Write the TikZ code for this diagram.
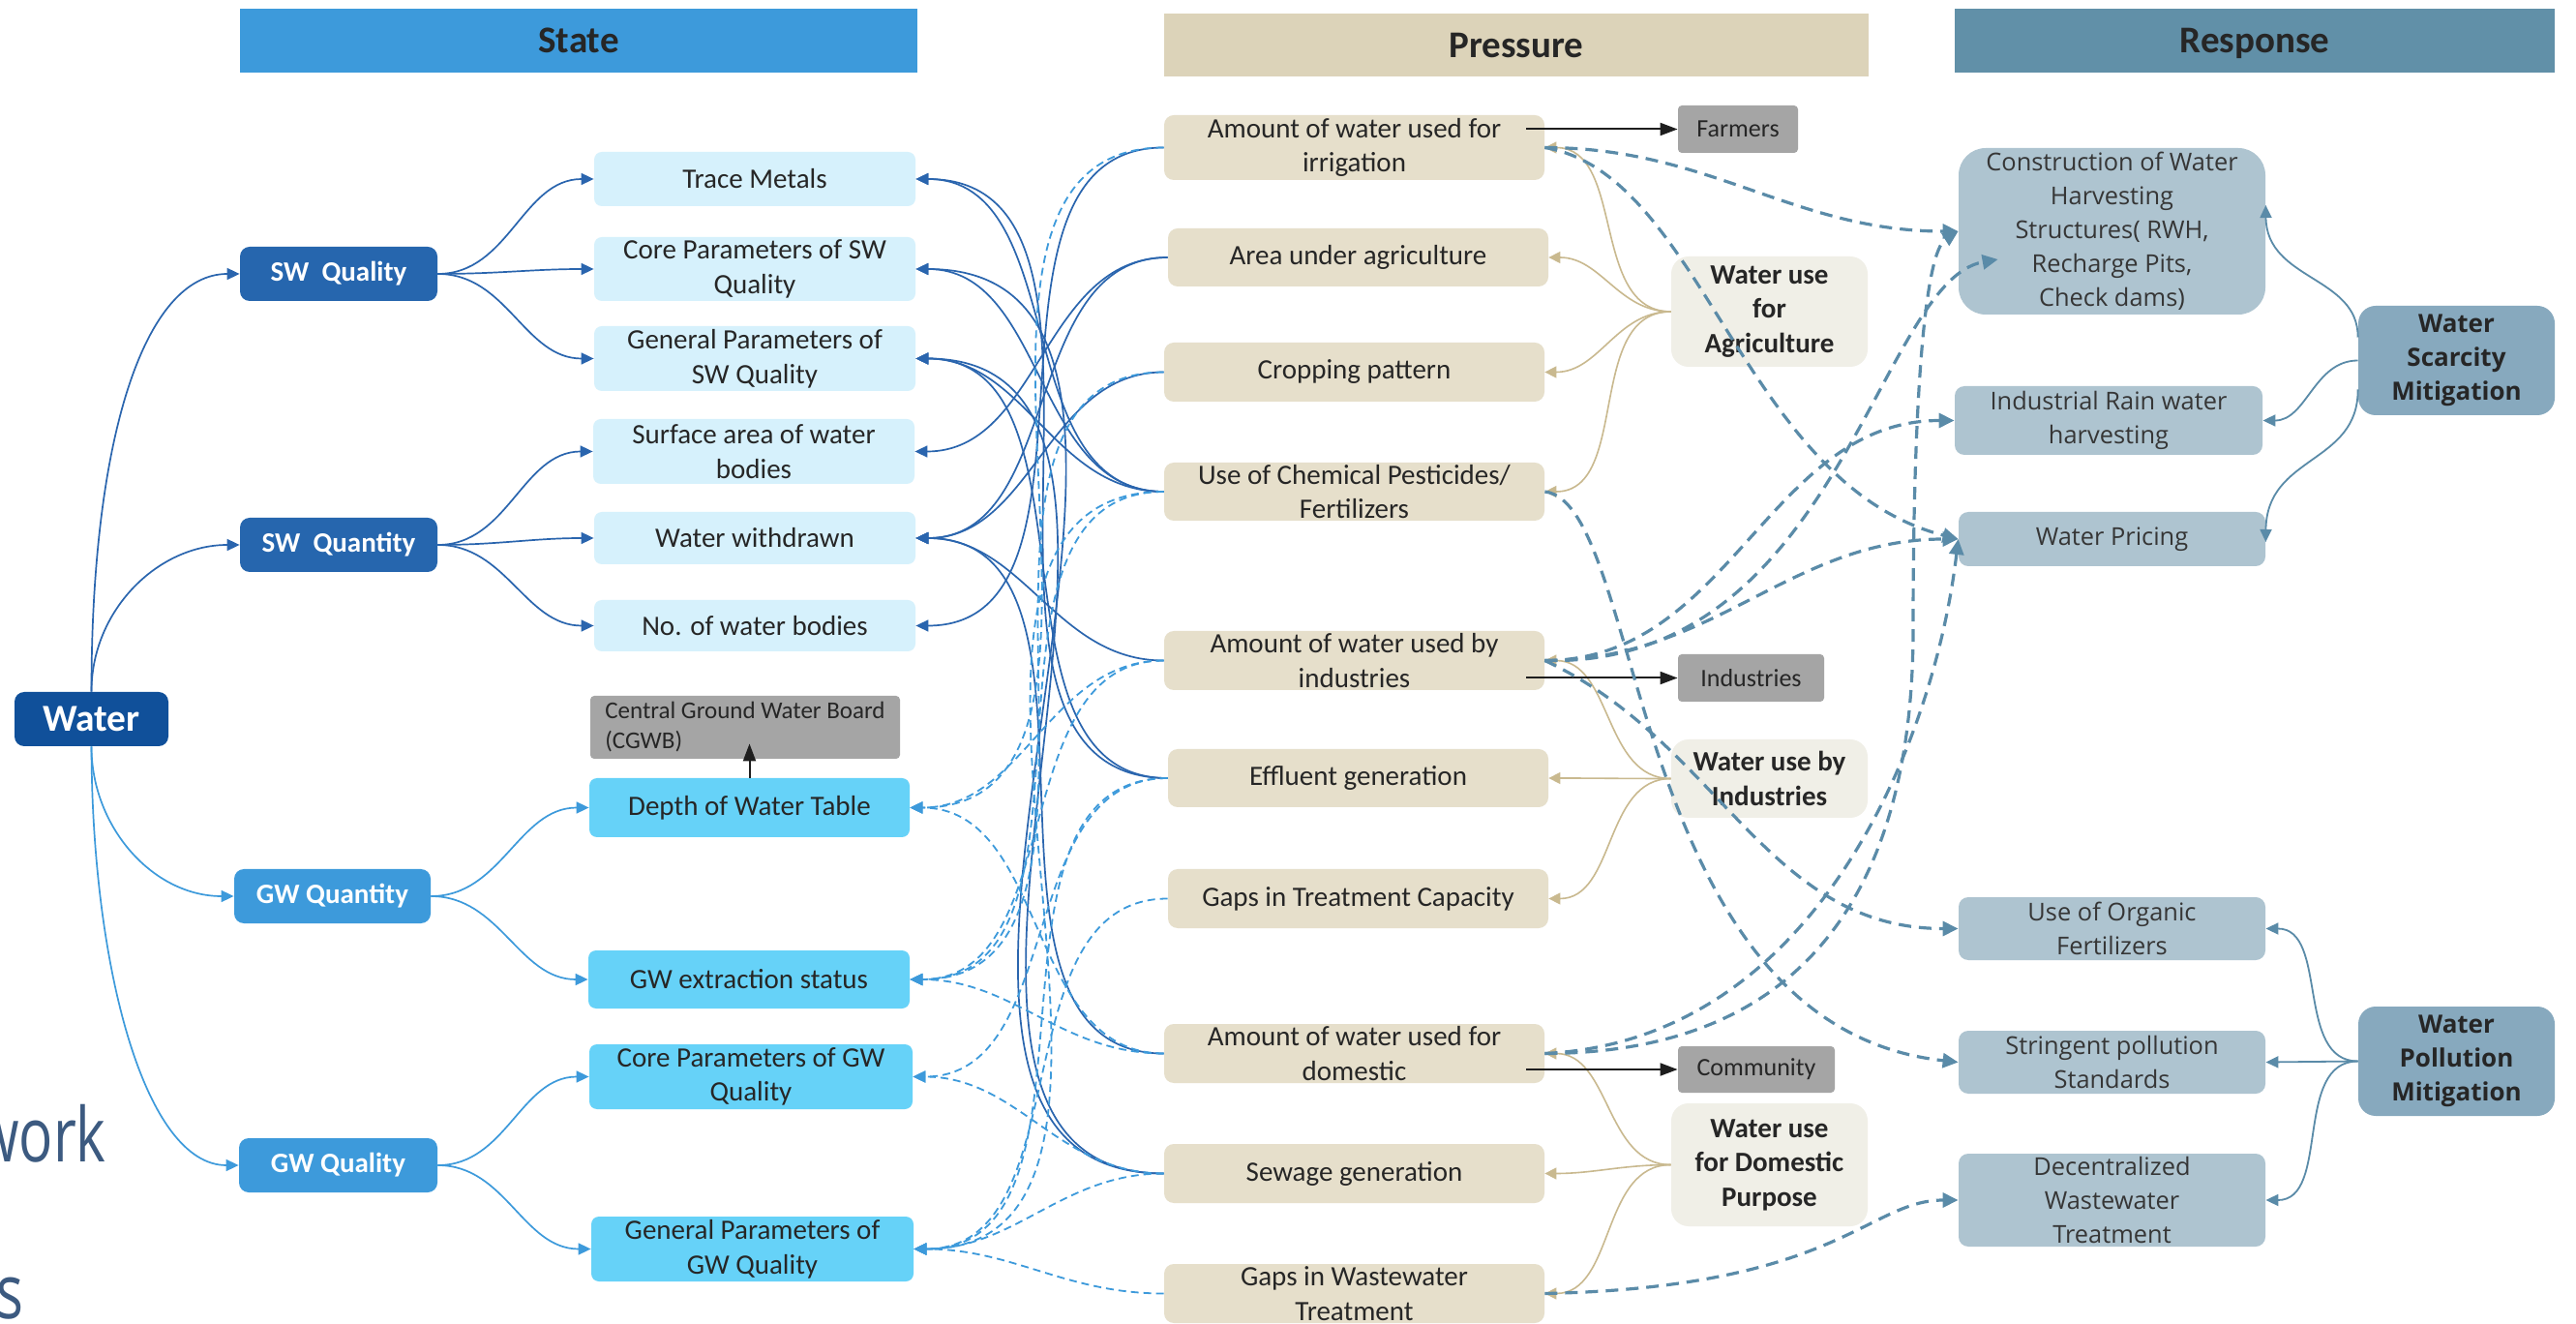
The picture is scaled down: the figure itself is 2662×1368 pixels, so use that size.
\documentclass[tikz,border=0pt]{standalone}
\usepackage{fontspec}
\setmainfont{Carlito}
\newfontfamily\osans{Open Sans}
\newfontfamily\slidefont[FakeStretch=0.75]{Open Sans}
\usetikzlibrary{arrows.meta}
\definecolor{hdrState}{HTML}{3D9ADB}
\definecolor{hdrPress}{HTML}{DCD3B9}
\definecolor{hdrResp}{HTML}{6190A8}
\definecolor{waterC}{HTML}{10509A}
\definecolor{swC}{HTML}{2666AE}
\definecolor{gwC}{HTML}{3D9ADB}
\definecolor{swSub}{HTML}{D6F1FC}
\definecolor{gwSub}{HTML}{66D2F8}
\definecolor{greyC}{HTML}{A5A5A5}
\definecolor{pressC}{HTML}{E6DFCB}
\definecolor{wuseC}{HTML}{F0EFE7}
\definecolor{respC}{HTML}{AEC4D0}
\definecolor{mitC}{HTML}{87A9BE}
\definecolor{txtC}{HTML}{262626}
\definecolor{rtxtC}{HTML}{363636}
\definecolor{swLine}{HTML}{2A65AE}
\definecolor{gwLine}{HTML}{3D9ADB}
\definecolor{rLine}{HTML}{5A8BA8}
\definecolor{tanLine}{HTML}{C9B98F}
\definecolor{blkLine}{HTML}{1E1E1E}
\definecolor{slateC}{HTML}{3C5A80}
\tikzset{
  base/.style={rectangle, inner sep=0pt, align=center, text=txtC},
  hdr/.style={base, text depth=0pt, font=\bfseries\fontsize{19.5}{22}\selectfont},
  dbox/.style={base, rounded corners=5pt, text=white, font=\bfseries\fontsize{14.5}{17}\selectfont},
  sbox/.style={base, fill=swSub, rounded corners=4pt, minimum width=166pt, font=\fontsize{14.5}{17.8}\selectfont},
  gbox/.style={base, fill=gwSub, rounded corners=4pt, font=\fontsize{14.5}{17.8}\selectfont},
  pbox/.style={base, fill=pressC, rounded corners=5pt, minimum width=196.5pt, font=\fontsize{14.5}{17.8}\selectfont},
  greybox/.style={base, fill=greyC, rounded corners=2pt, font=\fontsize{13}{15.5}\selectfont},
  wbox/.style={base, fill=wuseC, rounded corners=9pt, minimum width=101.5pt, font=\bfseries\fontsize{14.5}{17.8}\selectfont},
  rbox/.style={base, fill=respC, rounded corners=5pt, minimum width=158.5pt, text=rtxtC, font=\osans\fontsize{12.7}{17.5}\selectfont},
  mbox/.style={base, fill=mitC, rounded corners=9pt, minimum width=101.5pt, text=txtC, font=\osans\bfseries\fontsize{13}{17.5}\selectfont},
  swl/.style={draw=swLine, line width=0.85pt, -{Triangle[length=6.5pt,width=6pt]}},
  gws/.style={draw=gwLine, line width=0.85pt, -{Triangle[length=6.5pt,width=6pt]}},
  gwl/.style={draw=gwLine, line width=0.9pt, dash pattern=on 4pt off 2.5pt, -{Triangle[length=6.5pt,width=6pt]}},
  rl/.style={draw=rLine, line width=1.6pt, dash pattern=on 6.5pt off 4pt, -{Triangle[length=8pt,width=7.5pt]}},
  rs/.style={draw=rLine, line width=0.9pt, -{Triangle[length=6.5pt,width=6pt]}},
  tl/.style={draw=tanLine, line width=0.8pt, -{Triangle[length=6pt,width=6pt]}},
  bl/.style={draw=blkLine, line width=1pt, -{Triangle[length=9pt,width=6.5pt]}}
}
\begin{document}
\begin{tikzpicture}[x=0.5pt,y=0.5pt]
\useasboundingbox (0,0) rectangle (2662,-1368);
\clip (0,0) rectangle (2662,-1368);
\fill[white] (0,0) rectangle (2662,-1368);

% slide text fragments
\node[anchor=base east, inner sep=0pt, text=slateC, font=\slidefont\fontsize{39}{39}\selectfont] (fw) at (110,-1200) {work};
\node[anchor=base west, inner sep=0pt, text=slateC, font=\slidefont\fontsize{39}{39}\selectfont] (fs) at (-4,-1362) {s};

% headers
\node[hdr, fill=hdrState, minimum width=350pt, minimum height=33pt] (hS) at (598,-42) {State};
\node[hdr, fill=hdrPress, minimum width=364pt, minimum height=32.5pt] (hP) at (1567,-46.5) {Pressure};
\node[hdr, fill=hdrResp, minimum width=310pt, minimum height=33pt] (hR) at (2330,-42) {Response};

% state column
\node[dbox, fill=waterC, minimum width=79.5pt, minimum height=28pt, font=\bfseries\fontsize{19.7}{22}\selectfont] (water) at (94.5,-743) {Water};
\node[dbox, fill=swC, minimum width=102pt, minimum height=28pt] (swql) at (350,-283) {SW\ \ Quality};
\node[dbox, fill=swC, minimum width=102pt, minimum height=28pt] (swqn) at (350,-563) {SW\ \ Quantity};
\node[dbox, fill=gwC, minimum width=101.5pt, minimum height=28pt] (gwqn) at (343.5,-926) {GW Quantity};
\node[dbox, fill=gwC, minimum width=102.5pt, minimum height=28pt] (gwql) at (349.5,-1204) {GW Quality};

\node[sbox, minimum height=28pt] (trace) at (780,-185) {Trace Metals};
\node[sbox, minimum height=33pt] (coresw) at (780,-278) {Core Parameters of SW\\Quality};
\node[sbox, minimum height=33.5pt] (gensw) at (780,-370.5) {General Parameters of\\SW Quality};
\node[sbox, minimum height=33.5pt] (surf) at (779,-466.5) {Surface area of water\\bodies};
\node[sbox, minimum height=27pt] (withdr) at (780,-556) {Water withdrawn};
\node[sbox, minimum height=26.5pt] (nobod) at (780,-646.5) {No. of water bodies};

\node[greybox, align=left, minimum width=160pt, minimum height=32.5pt, font=\fontsize{12.5}{15.5}\selectfont] (cgwb) at (770,-751.5) {Central Ground Water Board\\(CGWB)};
\node[gbox, minimum width=165.5pt, minimum height=30.5pt] (depth) at (774.5,-834.5) {Depth of Water Table};
\node[gbox, minimum width=166pt, minimum height=30pt] (extr) at (774,-1012) {GW extraction status};
\node[gbox, minimum width=167pt, minimum height=33.5pt] (coregw) at (776,-1112.5) {Core Parameters of GW\\Quality};
\node[gbox, minimum width=166.5pt, minimum height=33.5pt] (gengw) at (777.5,-1290.5) {General Parameters of\\GW Quality};

% pressure column
\node[pbox, minimum height=33.5pt] (irr) at (1399.5,-152.5) {Amount of water used for\\irrigation};
\node[pbox, minimum height=30pt] (area) at (1403.5,-266) {Area under agriculture};
\node[pbox, minimum height=30.5pt] (crop) at (1399.5,-384.5) {Cropping pattern};
\node[pbox, minimum height=30pt] (chem) at (1399.5,-508) {Use of Chemical Pesticides/\\Fertilizers};
\node[pbox, minimum height=30.5pt] (ind) at (1399.5,-682.5) {Amount of water used by\\industries};
\node[pbox, minimum height=30pt] (eff) at (1403.5,-804) {Effluent generation};
\node[pbox, minimum height=30.5pt] (gapt) at (1403.5,-928.5) {Gaps in Treatment Capacity};
\node[pbox, minimum height=30.5pt] (dom) at (1399.5,-1088.5) {Amount of water used for\\domestic};
\node[pbox, minimum height=30.5pt] (sew) at (1399.5,-1212.5) {Sewage generation};
\node[pbox, minimum height=30.5pt] (gapw) at (1399.5,-1336.5) {Gaps in Wastewater\\Treatment};

\node[greybox, minimum width=62pt, minimum height=24.5pt] (farmers) at (1796,-133.5) {Farmers};
\node[greybox, minimum width=75.5pt, minimum height=24.5pt] (indus) at (1809.5,-700.5) {Industries};
\node[greybox, minimum width=81pt, minimum height=24pt] (comm) at (1815,-1105) {Community};

\node[wbox, minimum height=57pt] (wagri) at (1828.5,-322) {Water use\\for\\Agriculture};
\node[wbox, minimum height=40.5pt] (wind) at (1828.5,-804.5) {Water use by\\Industries};
\node[wbox, minimum height=63.5pt] (wdom) at (1828.5,-1203.5) {Water use\\for Domestic\\Purpose};

% response column
\node[rbox, rounded corners=14pt, minimum height=86pt] (constr) at (2182.5,-239) {Construction\ of Water\\Harvesting\\Structures( RWH,\\Recharge Pits,\\Check dams)};
\node[rbox, minimum width=159pt, minimum height=35.5pt] (rain) at (2179,-434.5) {Industrial Rain water\\harvesting};
\node[rbox, minimum height=28pt] (price) at (2182.5,-557) {Water Pricing};
\node[rbox, minimum height=32.5pt] (organ) at (2182.5,-959.5) {Use of Organic\\Fertilizers};
\node[rbox, minimum height=32.5pt] (string) at (2182.5,-1097.5) {Stringent pollution\\Standards};
\node[rbox, minimum height=48pt] (decen) at (2182.5,-1240) {Decentralized\\Wastewater\\Treatment};
\node[mbox, minimum height=56.5pt] (scarc) at (2538.5,-372.5) {Water\\Scarcity\\Mitigation};
\node[mbox, minimum height=56.5pt] (pollu) at (2538.5,-1096.5) {Water\\Pollution\\Mitigation};

% water to state groups
\draw[swl] (water.north) .. controls (94.5,-450) and (150,-283) .. (swql.west);
\draw[swl] (water.north) to[out=90,in=180] (swqn.west);
\draw[gws] (water.south) to[out=-90,in=180] (gwqn.west);
\draw[gws] (water.south) .. controls (95,-1000) and (150,-1204) .. (gwql.west);

\foreach \t in {trace,coresw,gensw} \draw[swl] (swql.east) to[out=0,in=180] (\t.west);
\foreach \t in {surf,withdr,nobod} \draw[swl] (swqn.east) to[out=0,in=180] (\t.west);
\foreach \t in {depth,extr} \draw[gws] (gwqn.east) to[out=0,in=180] (\t.west);
\foreach \t in {coregw,gengw} \draw[gws] (gwql.east) to[out=0,in=180] (\t.west);

\draw[bl, shorten >=-8pt] (depth.north) -- (depth.north |- cgwb.south);

% pressure to SW state (solid)
\draw[swl] (irr.west) to[out=180,in=0] (nobod.east);
\draw[swl] (area.west) to[out=180,in=0] (surf.east);
\draw[swl] (area.west) to[out=180,in=0] (withdr.east);
\draw[swl] (crop.west) to[out=180,in=0] (withdr.east);
\foreach \t in {trace,coresw,gensw} \draw[swl] (chem.west) to[out=180,in=0] (\t.east);
\draw[swl] (ind.west) to[out=180,in=0] (withdr.east);
\draw[swl] (eff.west) to[out=180,in=0] (trace.east);
\draw[swl] (eff.west) to[out=180,in=0] (gensw.east);
\draw[swl] (dom.west) to[out=180,in=0] (withdr.east);
\draw[swl] (sew.west) to[out=180,in=0] (coresw.east);
\draw[swl] (sew.west) to[out=180,in=0] (gensw.east);

% pressure to GW state (dashed)
\draw[gwl] (irr.west) to[out=180,in=0] (depth.east);
\draw[gwl] (crop.west) to[out=180,in=0] (extr.east);
\draw[gwl] (chem.west) to[out=180,in=0] (extr.east);
\draw[gwl] (chem.west) to[out=180,in=0] (gengw.east);
\draw[gwl] (ind.west) to[out=180,in=0] (depth.east);
\draw[gwl] (ind.west) to[out=180,in=0] (extr.east);
\draw[gwl] (eff.west) to[out=180,in=0] (coregw.east);
\draw[gwl] (eff.west) to[out=180,in=0] (gengw.east);
\draw[gwl] (gapt.west) to[out=180,in=0] (gengw.east);
\draw[gwl] (dom.west) to[out=180,in=0] (depth.east);
\draw[gwl] (dom.west) to[out=180,in=0] (extr.east);
\draw[gwl] (sew.west) to[out=180,in=0] (coregw.east);
\draw[gwl] (sew.west) to[out=180,in=0] (gengw.east);
\draw[gwl] (gapw.west) to[out=180,in=0] (gengw.east);

% drivers to pressures (tan)
\foreach \t in {irr,area,crop,chem} \draw[tl] (wagri.west) to[out=180,in=0] (\t.east);
\foreach \t in {ind,eff,gapt} \draw[tl] (wind.west) to[out=180,in=0] (\t.east);
\foreach \t in {dom,sew,gapw} \draw[tl] (wdom.west) to[out=180,in=0] (\t.east);

% actors (black)
\draw[bl, shorten <=-9.5pt] (irr.east |- farmers.west) -- (farmers.west);
\draw[bl, shorten <=-9.5pt] (ind.east |- indus.west) -- (indus.west);
\draw[bl, shorten <=-9.5pt] (dom.east |- comm.west) -- (comm.west);

% pressure to response (dashed)
\draw[rl] (irr.east) to[out=0,in=180] (constr.west);
\draw[rl] (irr.east) .. controls (1760,-180) and (1800,-500) .. (price.west);
\draw[rl] (ind.east) to[out=0,in=180] (price.west);
\draw[rl] (ind.east) to[out=0,in=180] (rain.west);
\draw[rl] (ind.east) .. controls (1900,-690) and (1940,-290) .. ([shift={(41,-29)}]constr.west);
\draw[rl] (ind.east) to[out=-25,in=180] (organ.west);
\draw[rl] (chem.east) .. controls (1700,-520) and (1680,-1060) .. (string.west);
\draw[rl] (dom.east) .. controls (1880,-1088) and (1977,-900) .. (1977,-650) .. controls (1977,-400) and (1990,-260) .. (constr.west);
\draw[rl] (dom.east) .. controls (1880,-1075) and (2000,-760) .. (price.west);
\draw[rl] (gapw.east) .. controls (1900,-1330) and (1930,-1240) .. (decen.west);

% mitigation to responses (solid)
\draw[rs] ([yshift=12pt]scarc.west) .. controls (2437,-285) and (2342,-290) .. ([yshift=13.5pt]constr.east);
\draw[rs] (scarc.west) to[out=180,in=0] (rain.east);
\draw[rs] ([yshift=-15pt]scarc.west) .. controls (2437,-480) and (2342,-470) .. ([yshift=-1.5pt]price.east);
\draw[rs] (pollu.west) to[out=180,in=0] (organ.east);
\draw[rs] (pollu.west) -- (string.east);
\draw[rs] (pollu.west) to[out=180,in=0] (decen.east);
\end{tikzpicture}
\end{document}
